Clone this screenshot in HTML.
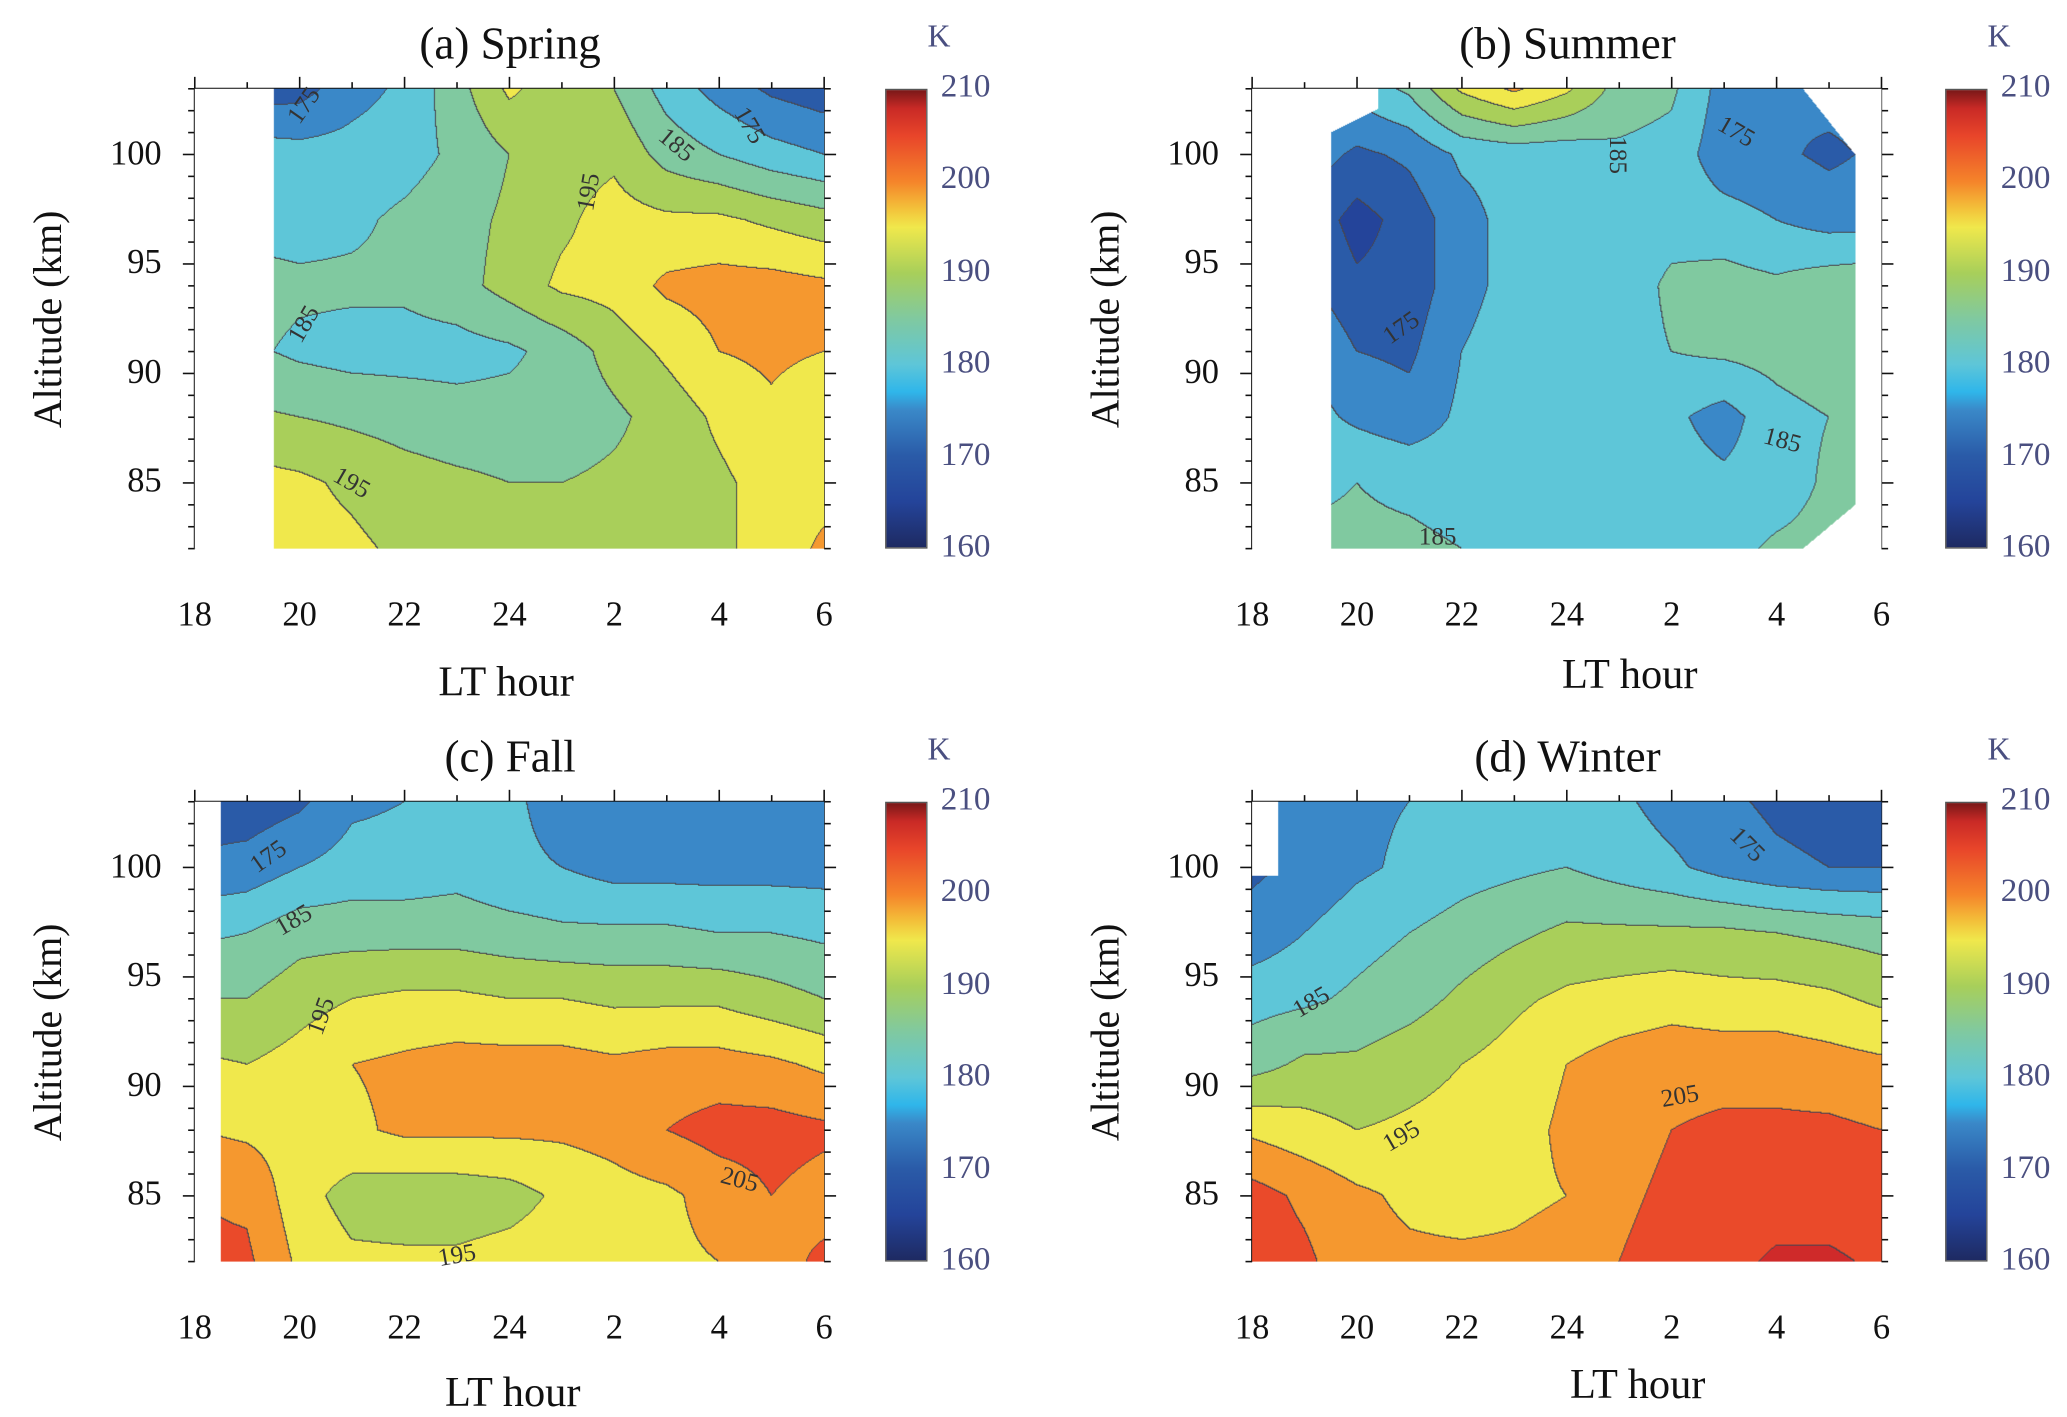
<!DOCTYPE html>
<html><head><meta charset="utf-8">
<style>
html,body{margin:0;padding:0;background:#fff;width:2067px;height:1414px;overflow:hidden}
#root{position:absolute;left:0;top:0;width:1560px;height:1067px;transform:scale(1.325,1.3252);transform-origin:0 0;font-family:"Liberation Serif",serif}
canvas{position:absolute}
.t{position:absolute;white-space:nowrap;color:#111}
.cb{position:absolute;width:32px;border:1px solid #555;box-sizing:border-box;background:linear-gradient(to bottom,#7a1818 0%,#c92a26 4%,#e8452a 10%,#f5842a 20%,#f3c23a 26%,#f0e84c 30%,#a8cf5a 40%,#80c9a0 50%,#5ec6d8 60%,#2fb6ea 66%,#3a88c8 70%,#2a5ba8 80%,#24449a 90%,#1e2a62 100%)}
.cl{position:absolute;color:#4a4f80;font-size:25px}
</style></head><body>
<div id="root">
<svg id="ov" width="1560" height="1067" style="position:absolute;left:0;top:0"></svg>
</div>
<script>
const hours=[18,19,20,21,22,23,24,25,26,27,28,29,30];
const alts=[82,85,88,91,94,97,100,103];
const spring=[
[197,197,197,196,194,193,193,193,193,193,194,197,201],
[197,197,196,194,192,191,190,190,191,192,194,197,198],
[191,191,190,189,188,187,187,187,189,192,196,199,196],
[186,186,184,183,183,183,184,187,192,196,200,201,200],
[187,187,186,186,186,188,192,196,197,201,202,202,201],
[183,183,183,184,186,188,191,194,197,196,196,194,192],
[183,183,182,182,183,186,190,193,194,188,185,182,180],
[172,172,173,178,181,188,196,192,190,183,178,174,172]];
const summer=[
[186,186,186,186,185,183,183,183,183,183,186,187,187],
[184,184,185,184,183,183,183,183,182,181,182,186,186],
[182,182,179,177,181,183,183,183,181,178,183,185,186],
[181,181,175,174,180,183,184,183,185,186,187,189,191],
[178,176,171,172,178,182,183,182,186,187,186,188,189],
[177,174,168,172,178,182,183,182,183,182,180,178,178],
[180,178,174,176,181,182,182,184,183,177,176,174,176],
[184,184,182,186,196,201,196,188,186,178,175,177,177]];
const fall=[
[206,206,199,196,196,196,197,198,198,199,200,203,206],
[205,204,197,193,192,192,193,196,198,199,202,205,203],
[200,199,198,199,201,201,201,201,202,205,207,207,206],
[196,195,197,200,201,202,202,202,201,202,202,201,199],
[190,190,193,195,196,196,195,195,194,194,194,192,190],
[184,185,188,188,188,188,187,186,186,186,185,185,184],
[176,177,180,182,182,183,181,180,178,178,178,178,178],
[172,172,174,179,180,181,181,178,178,178,178,178,177]];
const winter=[
[208,206,202,201,201,201,202,205,207,208,211,211,209],
[207,204,201,199,198,199,200,204,206,206,207,207,206],
[199,197,195,196,197,198,201,203,205,206,206,206,205],
[188,191,191,193,195,197,200,202,203,203,203,202,201],
[183,184,186,188,191,194,196,197,198,197,197,196,194],
[177,180,183,185,187,189,191,191,191,191,190,189,188],
[174,176,179,181,183,184,185,183,181,178,176,175,175],
[174,176,179,180,182,183,184,181,178,176,174,173,172]];
const xTickLabels=["18","20","22","24","2","4","6"];
const yTickVals=[85,90,95,100];
const cbLabels=["210","200","190","180","170","160"];
const bandColors=["#24306e","#24449a","#2a5ba8","#3a88c8","#5ec6d8","#80c9a0","#a9cf5a","#f0e84c","#f5982f","#ea4a2a","#cf2a2a"];

const S=1.325;
const root=document.getElementById('root');
const ov=document.getElementById('ov');
const NS='http://www.w3.org/2000/svg';
function hexRGB(h){return [parseInt(h.slice(1,3),16),parseInt(h.slice(3,5),16),parseInt(h.slice(5,7),16)];}
const bandRGB=bandColors.map(hexRGB);
function interp(g,h,a){
  let i=0;while(i<hours.length-2&&h>hours[i+1])i++;
  let j=0;while(j<alts.length-2&&a>alts[j+1])j++;
  const tx=Math.min(1,Math.max(0,(h-hours[i])/(hours[i+1]-hours[i])));
  const ty=Math.min(1,Math.max(0,(a-alts[j])/(alts[j+1]-alts[j])));
  return g[j][i]*(1-tx)*(1-ty)+g[j][i+1]*tx*(1-ty)+g[j+1][i]*(1-tx)*ty+g[j+1][i+1]*tx*ty;
}
const panels=[
 {id:'spring',title:'(a) Spring',data:spring,x0:147,x1:622,ybot:414,ytop:67,cbx:668,xl:[382,516],yl:37,tx:385,
  mask:(h,a)=>h>=19.5},
 {id:'summer',title:'(b) Summer',data:summer,x0:945,x1:1420,ybot:414,ytop:67,cbx:1468,xl:[1230,510],yl:835,tx:1183,
  mask:(h,a)=>h>=19.5&&h<=29.5&&!(h<20.4&&a>101+(h-19.5)*1.2)&&!(h>28.5&&a>103-(h-28.5)*3)&&!(h>28.5&&a<82+(h-28.5)*2)},
 {id:'fall',title:'(c) Fall',data:fall,x0:147,x1:622,ybot:952,ytop:605,cbx:668,xl:[387,1052],yl:37,tx:385,
  mask:(h,a)=>h>=18.5},
 {id:'winter',title:'(d) Winter',data:winter,x0:945,x1:1420,ybot:952,ytop:605,cbx:1468,xl:[1236,1046],yl:835,tx:1183,
  mask:(h,a)=>!(h<18.5&&a>99.6)}
];
function txt(s,x,y,size,cls,name){
  const d=document.createElement('div');d.className=cls||'t';d.textContent=s;
  d.style.left=x+'px';d.style.top=y+'px';d.style.fontSize=size+'px';
  
  
  root.appendChild(d);return d;
}
function line(x1,y1,x2,y2,w,c){
  const l=document.createElementNS(NS,'line');
  l.setAttribute('x1',x1);l.setAttribute('y1',y1);l.setAttribute('x2',x2);l.setAttribute('y2',y2);
  l.setAttribute('stroke',c||'#111');l.setAttribute('stroke-width',w||1);
  
  
  ov.appendChild(l);
}
panels.forEach(p=>{
  const W=p.x1-p.x0,H=p.ybot-p.ytop;
  const cw=Math.round(W*S),ch=Math.round(H*S);
  const cv=document.createElement('canvas');
  cv.width=cw;cv.height=ch;cv.style.left=p.x0+'px';cv.style.top=p.ytop+'px';cv.style.width=W+'px';cv.style.height=H+'px';
  
  
  root.appendChild(cv);
  const ctx=cv.getContext('2d');const img=ctx.createImageData(cw,ch);
  const band=new Int16Array(cw*ch);
  for(let y=0;y<ch;y++){const a=103-(y+0.5)/ch*21;
    for(let x=0;x<cw;x++){const h=18+(x+0.5)/cw*12;
      if(!p.mask(h,a)){band[y*cw+x]=-1;continue;}
      const v=interp(p.data,h,a);
      band[y*cw+x]=Math.max(0,Math.min(10,Math.floor((v-160)/5)));}}
  for(let y=0;y<ch;y++)for(let x=0;x<cw;x++){
    const k=y*cw+x,b=band[k],o=k*4;
    if(b<0){img.data[o]=255;img.data[o+1]=255;img.data[o+2]=255;img.data[o+3]=255;continue;}
    let c=bandRGB[b];
    const r=x<cw-1?band[k+1]:b,d=y<ch-1?band[k+cw]:b;
    if((r>=0&&r!==b)||(d>=0&&d!==b))c=[70,70,80];
    img.data[o]=c[0];img.data[o+1]=c[1];img.data[o+2]=c[2];img.data[o+3]=255;}
  ctx.putImageData(img,0,0);
  const fx=(h)=>p.x0+(h-18)/12*W, fy=(a)=>p.ybot-(a-82)/21*H;
  line(p.x0,p.ytop,p.x1,p.ytop,1.5);line(p.x0,p.ytop,p.x0,p.ybot,1.5);
  line(p.x1,p.ytop,p.x1,p.ybot,1);
  for(let h=18;h<=30;h++){const L=(h%2===0)?9:5;
    line(fx(h),p.ytop,fx(h),p.ytop-L,1.2);}
  for(let a=82;a<=103;a++){const L=(a%5===0)?9:5;
    line(p.x0,fy(a),p.x0-L,fy(a),1.2);line(p.x1,fy(a),p.x1+L,fy(a),1.2);}
  xTickLabels.forEach((s,i)=>{const d=txt(s,fx(18+2*i),p.ybot+35,26,'t','x-tick-label');d.style.transform='translateX(-50%)';});
  yTickVals.forEach(v=>{const d=txt(String(v),p.x0-25,fy(v)-16,26,'t','y-tick-label');d.style.transform='translateX(-100%)';});
  const tt=txt(p.title,p.tx,15,34,'t',p.id+'-title');tt.style.top=(p.ytop-52)+'px';tt.style.transform='translateX(-50%)';
  const xl=txt('LT hour',p.xl[0],p.xl[1]-20,32,'t','x-axis-title');xl.style.transform='translateX(-50%)';
  const yl=txt('Altitude (km)',p.yl,(p.ytop+p.ybot)/2,30,'t','y-axis-title');yl.style.transform='translate(-50%,-50%) rotate(-90deg)';
  const cb=document.createElement('div');cb.className='cb';cb.style.left=p.cbx+'px';cb.style.top=p.ytop+'px';cb.style.height=H+'px';
  
  
  root.appendChild(cb);
  cbLabels.forEach((s,i)=>{txt(s,p.cbx+42,p.ytop+i*H/5-15,25,'cl','colorbar-tick-label');});
  txt('K',p.cbx+32,p.ytop-52,24,'cl','colorbar-unit');
});
const labs=[[230,80,'175',-55],[510,110,'185',40],[565,95,'175',60],[445,145,'195',-80],[230,245,'185',-60],[265,365,'195',30],
[1310,100,'175',30],[1220,117,'185',90],[1058,248,'175',-35],[1345,333,'185',15],[1085,406,'185',0],
[203,647,'175',-35],[222,695,'185',-30],[243,767,'195',-70],[558,891,'205',15],[345,948,'195',-10],
[1318,638,'175',45],[990,757,'185',-30],[1058,858,'195',-30],[1268,828,'205',-10]];
labs.forEach(l=>{const d=txt(l[2],l[0],l[1],19,'t','contour-label');d.style.color='#333';d.style.transform='translate(-50%,-50%) rotate('+l[3]+'deg)';});
</script>
</body></html>
